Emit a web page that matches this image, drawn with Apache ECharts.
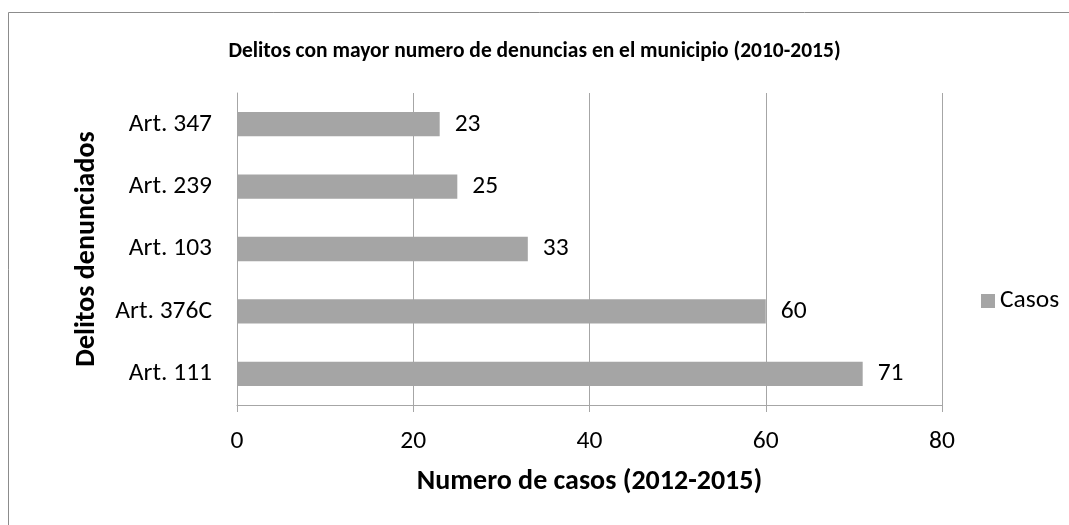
<!DOCTYPE html>
<html>
<head>
<meta charset="utf-8">
<script src="https://cdn.jsdelivr.net/npm/echarts@6/dist/echarts.min.js"></script>
<style>
  html, body { margin: 0; padding: 0; background: #ffffff; }
  #chart { width: 1069px; height: 525px; }
</style>
</head>
<body>
<div id="chart"></div>
<script>
// Offences (bottom to top on the category axis) and number of reported cases
const categories = ['Art. 111', 'Art. 376C', 'Art. 103', 'Art. 239', 'Art. 347'];
const casos = [71, 60, 33, 25, 23];
const xTicks = { min: 0, max: 80, interval: 20 };

const FONT = 'Carlito, Lato, "Open Sans", sans-serif';
const gridGray = '#a6a6a6';
const TXT = 25.5;

const chart = echarts.init(document.getElementById('chart'), null, { renderer: 'canvas' });

chart.setOption({
  backgroundColor: '#ffffff',
  animation: false,
  textStyle: { fontFamily: FONT },
  graphic: [{
    type: 'rect',
    shape: { x: 8.5, y: 12.5, width: 1200, height: 600 },
    style: { fill: 'none', stroke: '#8c8c8c', lineWidth: 1 },
    silent: true
  }],
  title: {
    text: 'Delitos con mayor numero de denuncias en el municipio (2010-2015)',
    left: 'center',
    top: 36,
    textStyle: { fontFamily: FONT, fontSize: 21.5, fontWeight: 'bold', color: '#000000' }
  },
  legend: {
    data: ['Casos'],
    orient: 'vertical',
    left: 976,
    top: 283,
    itemWidth: 14,
    itemHeight: 14,
    itemGap: 0,
    icon: 'rect',
    textStyle: { fontFamily: FONT, fontSize: TXT, color: '#000000' }
  },
  grid: { left: 237, right: 127, top: 93, bottom: 120, containLabel: false },
  xAxis: {
    type: 'value',
    min: xTicks.min,
    max: xTicks.max,
    interval: xTicks.interval,
    name: 'Numero de casos (2012-2015)',
    nameLocation: 'middle',
    nameGap: 63,
    nameTextStyle: { fontFamily: FONT, fontSize: 28, fontWeight: 'bold', color: '#000000' },
    axisLine: { show: true, lineStyle: { color: gridGray, width: 1 } },
    axisTick: { show: true, length: 7, lineStyle: { color: gridGray } },
    axisLabel: { fontFamily: FONT, fontSize: TXT, color: '#000000', margin: 24 },
    splitLine: { show: true, lineStyle: { color: gridGray, width: 1 } }
  },
  yAxis: {
    type: 'category',
    data: categories,
    name: 'Delitos denunciados',
    nameLocation: 'middle',
    nameGap: 136,
    nameTextStyle: { fontFamily: FONT, fontSize: 28, fontWeight: 'bold', color: '#000000' },
    axisLine: { show: true, lineStyle: { color: gridGray, width: 1 } },
    axisTick: { show: false },
    axisLabel: { fontFamily: FONT, fontSize: TXT, color: '#000000', margin: 25 }
  },
  series: [{
    name: 'Casos',
    type: 'bar',
    data: casos,
    barCategoryGap: '61%',
    itemStyle: { color: '#a5a5a5' },
    label: {
      show: true,
      position: 'right',
      distance: 15,
      fontFamily: FONT,
      fontSize: TXT,
      color: '#000000'
    }
  }]
});
</script>
</body>
</html>
